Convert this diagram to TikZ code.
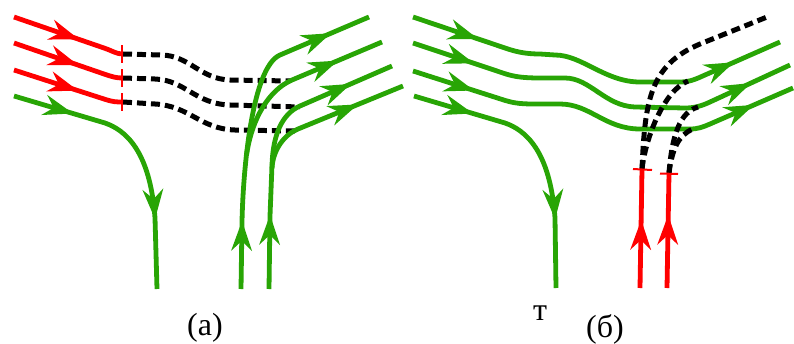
\documentclass[tikz,border=0pt]{standalone}
\usepackage{fontspec}
\setmainfont{Liberation Serif}
\usetikzlibrary{decorations.markings}
\definecolor{fieldgreen}{RGB}{40,165,5}
\definecolor{fieldred}{RGB}{255,0,0}
\begin{document}
\begin{tikzpicture}[x=1pt,y=-1pt,line join=round,
  gline/.style={draw=fieldgreen,line width=4.8pt},
  rline/.style={draw=fieldred,line width=4.8pt},
  dline/.style={draw=black,line width=5pt,dash pattern=on 9pt off 5pt},
  endtick/.style={draw=fieldred,line width=2pt},
  % stealth-shaped head whose tip sits at the end of the (invisible) path
  headat/.style={decorate,decoration={markings,mark=at position 1 with
     {\fill[#1] (1pt,0pt) -- (-29pt,10.5pt) -- (-19pt,0pt) -- (-29pt,-10.5pt) -- cycle;}}},
  ghead/.style={headat=fieldgreen},
  rhead/.style={headat=fieldred},
  lbl/.style={font=\fontsize{32}{36}\selectfont,inner sep=0pt,anchor=base}]
\useasboundingbox (0,0) rectangle (794,343);

% ---------------- panel (a) ----------------
% broken continuations of the incoming lines
\draw[dline] (123,54) -- (162,55) .. controls (190,56) and (200,79) .. (230,80) -- (290,81);
\draw[dline] (123,78) -- (155,79) .. controls (185,80) and (195,104) .. (230,105) -- (300,107);
\draw[dline] (123,102) -- (155,104) .. controls (190,106) and (200,129) .. (235,130) -- (295,131);

% incoming red lines
\draw[rline] (14,17) -- (104,48) .. controls (113,51) and (116,54) .. (123,54);
\draw[rline] (14,43) -- (104,74) .. controls (113,77) and (116,78) .. (123,78);
\draw[rline] (14,70) -- (104,99) .. controls (113,102) and (116,102) .. (123,102);
\path[rhead] (14,17) -- (78,39.04);
\path[rhead] (14,43) -- (77,64.7);
\path[rhead] (14,70) -- (77,90.3);
\draw[endtick] (122,45) -- (122,63);
\draw[endtick] (122,69) -- (122,87);
\draw[endtick] (122,93) -- (122,111);

% green line turning down
\draw[gline] (14,96) -- (105,123) .. controls (125,130) and (150,150) .. (155,218) -- (157,289);
\path[ghead] (14,96) -- (72,113.2);
\path[ghead] (150,150) -- (155,218);

% rising lines on the right
\draw[gline] (241,289) -- (242,222) .. controls (243,170) and (252,67) .. (280,55) -- (369,17);
\draw[gline] (246.5,155) .. controls (252,118) and (269,90) .. (292,80) -- (382,42);
\draw[gline] (269,289) -- (270,216) -- (272,165)
   .. controls (273,135) and (281.7,114) .. (300,106) -- (392,66);
\draw[gline] (272,168) .. controls (273,150) and (284,134.7) .. (298,129) -- (403,86);
\path[ghead] (241,289) -- (242,222);
\path[ghead] (269,289) -- (270,216);
\path[ghead] (280,55) -- (330,33.6);
\path[ghead] (292,80) -- (337,61);
\path[ghead] (300,106) -- (350,84.3);
\path[ghead] (298,129) -- (357,104.8);

\node[lbl] (capa) at (205,335) {(a)};

% ---------------- panel (b) ----------------
\draw[gline] (413,17) -- (505,48) .. controls (515,51.5) and (525,54) .. (540,54) -- (555,55)
  .. controls (582,55) and (605,82) .. (640,82) -- (680,82) .. controls (690,82) and (696,79) .. (705,75) -- (780,42);
\draw[gline] (413,43) -- (505,73.7) .. controls (515,77) and (525,78) .. (540,78) -- (565,78)
  .. controls (590,78) and (605,106) .. (635,107) -- (685,108) .. controls (695,108) and (702,105.7) .. (710,102) -- (790,65);
\draw[gline] (413,71) -- (505,100.4) .. controls (518,104.5) and (528,104) .. (545,104) -- (560,104)
  .. controls (590,104) and (605,129) .. (640,129) -- (690,129) .. controls (698,129) and (703,127) .. (710,124) -- (793,88);
\draw[gline] (414,96) -- (505,123) .. controls (525,130) and (550,150) .. (555,218) -- (556,288);
\path[ghead] (413,17) -- (477,38.6);
\path[ghead] (413,43) -- (473,63);
\path[ghead] (413,71) -- (473,90.2);
\path[ghead] (414,96) -- (472,113.2);
\path[ghead] (550,150) -- (555,218);
\path[ghead] (705,75) -- (733,62.7);
\path[ghead] (710,102) -- (750,83.5);
\path[ghead] (710,124) -- (753,105.3);

% red lines coming up from below
\draw[rline] (640,288) -- (642,169);
\draw[rline] (667,288) -- (669,173);
\path[rhead] (640,288) -- (641.2,221);
\path[rhead] (667,288) -- (668.2,216);

% broken continuations
\draw[dline] (642,169) .. controls (645,100) and (650,65) .. (700,44) -- (767,17);
\draw[dline] (642,169) .. controls (646,135) and (665,90) .. (688,81);
\draw[dline] (669,173) .. controls (672,135) and (680,112) .. (698,107);
\draw[dline] (669,173) .. controls (672,150) and (678,135) .. (693,129);

\draw[endtick] (633,169) -- (652,170);
\draw[endtick] (660,173.5) -- (678,174);

\node[lbl] (tmark) at (540,320) {т};
\node[lbl] (capb) at (605,337) {(б)};
\end{tikzpicture}
\end{document}
